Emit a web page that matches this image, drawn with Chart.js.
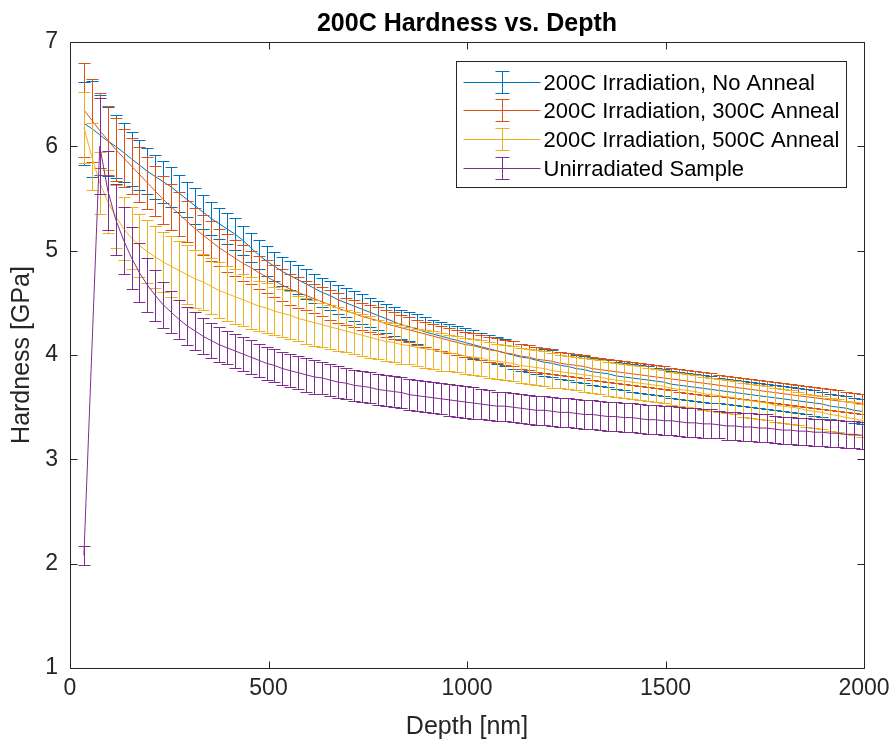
<!DOCTYPE html>
<html>
<head>
<meta charset="utf-8">
<script src="https://cdn.jsdelivr.net/npm/chart.js@4.4.1/dist/chart.umd.min.js"></script>
<style>
html,body{margin:0;padding:0;background:#fff;}
#wrap{width:894px;height:746px;}
</style>
</head>
<body>
<div id="wrap"><canvas id="c" width="894" height="746"></canvas></div>
<script>
const TITLE = '200C Hardness vs. Depth';
const X_LABEL = 'Depth [nm]';
const Y_LABEL = 'Hardness [GPa]';
const SERIES_NAMES = ['200C Irradiation, No Anneal', '200C Irradiation, 300C Anneal', '200C Irradiation, 500C Anneal', 'Unirradiated Sample'];
const X_TICKS = [0, 500, 1000, 1500, 2000];
const Y_TICKS = [1, 2, 3, 4, 5, 6, 7];

const depth = [35,55,75,95,115,135,155,175,195,215,
  235,255,275,295,315,335,355,375,395,415,
  435,455,475,495,515,535,555,575,595,615,
  635,655,675,695,715,735,755,775,795,815,
  835,855,875,895,915,935,955,975,995,1015,
  1035,1055,1075,1095,1115,1135,1155,1175,1195,1215,
  1235,1255,1275,1295,1315,1335,1355,1375,1395,1415,
  1435,1455,1475,1495,1515,1535,1555,1575,1595,1615,
  1635,1655,1675,1695,1715,1735,1755,1775,1795,1815,
  1835,1855,1875,1895,1915,1935,1955,1975,1995];

const noAnneal = [6.22,6.17,6.11,6.05,6.00,5.94,5.88,5.82,5.76,5.71,
  5.66,5.61,5.55,5.49,5.43,5.37,5.31,5.26,5.21,5.16,
  5.10,5.03,4.96,4.90,4.85,4.80,4.76,4.72,4.68,4.64,
  4.60,4.57,4.53,4.50,4.47,4.44,4.41,4.38,4.35,4.32,
  4.29,4.27,4.25,4.22,4.20,4.18,4.16,4.14,4.12,4.10,
  4.08,4.06,4.04,4.02,4.00,3.98,3.97,3.95,3.93,3.92,
  3.90,3.89,3.87,3.86,3.84,3.83,3.82,3.80,3.79,3.78,
  3.77,3.76,3.75,3.74,3.72,3.71,3.70,3.69,3.68,3.67,
  3.66,3.65,3.64,3.63,3.62,3.61,3.60,3.59,3.58,3.57,
  3.56,3.55,3.54,3.53,3.51,3.50,3.49,3.47,3.46];
const noAnnealErr = [0.40,0.46,0.38,0.33,0.30,0.28,0.26,0.24,0.22,0.21,
  0.20,0.19,0.18,0.17,0.17,0.16,0.16,0.15,0.15,0.15,
  0.14,0.14,0.14,0.14,0.14,0.14,0.14,0.14,0.14,0.14,
  0.14,0.14,0.14,0.14,0.14,0.14,0.14,0.14,0.14,0.14,
  0.14,0.14,0.14,0.14,0.14,0.14,0.14,0.14,0.14,0.14,
  0.13,0.13,0.13,0.13,0.13,0.13,0.13,0.13,0.13,0.13,
  0.13,0.13,0.13,0.13,0.13,0.13,0.13,0.13,0.13,0.13,
  0.13,0.13,0.13,0.13,0.13,0.13,0.13,0.13,0.13,0.13,
  0.12,0.12,0.12,0.12,0.12,0.12,0.12,0.12,0.12,0.12,
  0.12,0.12,0.12,0.12,0.12,0.12,0.12,0.12,0.12];

const anneal300 = [6.35,6.25,6.15,6.06,5.97,5.89,5.81,5.73,5.65,5.57,
  5.49,5.42,5.35,5.28,5.21,5.15,5.09,5.03,4.98,4.93,
  4.88,4.84,4.79,4.75,4.71,4.67,4.63,4.60,4.57,4.54,
  4.51,4.48,4.45,4.42,4.40,4.37,4.35,4.33,4.30,4.28,
  4.26,4.24,4.22,4.20,4.18,4.16,4.14,4.12,4.10,4.09,
  4.07,4.05,4.04,4.02,4.01,3.99,3.98,3.96,3.95,3.94,
  3.92,3.91,3.90,3.89,3.87,3.86,3.85,3.84,3.83,3.82,
  3.81,3.80,3.79,3.78,3.77,3.76,3.75,3.74,3.73,3.72,
  3.71,3.70,3.69,3.68,3.67,3.66,3.65,3.64,3.63,3.62,
  3.61,3.60,3.59,3.58,3.57,3.56,3.55,3.54,3.53];
const anneal300Err = [0.45,0.40,0.36,0.33,0.30,0.28,0.27,0.26,0.25,0.24,
  0.23,0.22,0.21,0.20,0.20,0.19,0.19,0.18,0.18,0.17,
  0.17,0.16,0.16,0.16,0.15,0.15,0.15,0.15,0.14,0.14,
  0.14,0.14,0.14,0.13,0.13,0.13,0.13,0.13,0.13,0.13,
  0.12,0.12,0.12,0.12,0.12,0.12,0.12,0.12,0.12,0.12,
  0.12,0.12,0.12,0.12,0.12,0.12,0.12,0.12,0.12,0.12,
  0.11,0.11,0.11,0.11,0.11,0.11,0.11,0.11,0.11,0.11,
  0.11,0.11,0.11,0.11,0.11,0.11,0.11,0.11,0.11,0.11,
  0.10,0.10,0.10,0.10,0.10,0.10,0.10,0.10,0.10,0.10,
  0.10,0.10,0.10,0.10,0.10,0.10,0.10,0.10,0.10];

const anneal500 = [6.18,5.90,5.65,5.47,5.33,5.21,5.12,5.05,4.99,4.94,
  4.89,4.85,4.81,4.77,4.73,4.70,4.66,4.62,4.59,4.56,
  4.53,4.50,4.47,4.45,4.42,4.40,4.38,4.35,4.33,4.31,
  4.29,4.27,4.25,4.23,4.21,4.19,4.17,4.15,4.13,4.12,
  4.10,4.09,4.07,4.06,4.05,4.03,4.02,4.01,3.99,3.98,
  3.97,3.95,3.94,3.93,3.92,3.90,3.89,3.88,3.87,3.85,
  3.84,3.83,3.82,3.81,3.80,3.79,3.77,3.76,3.75,3.74,
  3.73,3.72,3.71,3.70,3.68,3.67,3.66,3.65,3.63,3.62,
  3.61,3.60,3.59,3.57,3.56,3.55,3.54,3.52,3.51,3.50,
  3.49,3.47,3.46,3.45,3.43,3.42,3.40,3.39,3.37];
const anneal500Err = [0.34,0.32,0.30,0.30,0.30,0.30,0.30,0.30,0.30,0.30,
  0.29,0.29,0.28,0.28,0.28,0.27,0.27,0.27,0.26,0.26,
  0.25,0.25,0.24,0.24,0.23,0.23,0.23,0.22,0.22,0.22,
  0.21,0.21,0.21,0.20,0.20,0.20,0.20,0.19,0.19,0.19,
  0.19,0.18,0.18,0.18,0.18,0.18,0.17,0.17,0.17,0.17,
  0.17,0.17,0.17,0.17,0.17,0.17,0.17,0.17,0.17,0.17,
  0.16,0.16,0.16,0.16,0.16,0.16,0.16,0.16,0.16,0.16,
  0.16,0.16,0.16,0.16,0.16,0.16,0.16,0.16,0.16,0.16,
  0.16,0.16,0.16,0.16,0.16,0.16,0.16,0.16,0.16,0.16,
  0.16,0.16,0.16,0.16,0.16,0.16,0.16,0.16,0.16];

const unirradiated = [2.08,null,6.00,5.58,5.30,5.10,4.93,4.79,4.67,4.57,
  4.48,4.41,4.34,4.28,4.23,4.18,4.14,4.10,4.07,4.04,
  4.01,3.98,3.95,3.92,3.90,3.87,3.85,3.83,3.81,3.79,
  3.78,3.76,3.74,3.73,3.71,3.70,3.69,3.67,3.66,3.65,
  3.64,3.62,3.61,3.60,3.59,3.58,3.57,3.56,3.55,3.54,
  3.53,3.52,3.51,3.51,3.50,3.49,3.48,3.47,3.47,3.46,
  3.45,3.45,3.44,3.43,3.43,3.42,3.41,3.41,3.40,3.40,
  3.39,3.38,3.38,3.37,3.37,3.36,3.35,3.35,3.34,3.34,
  3.33,3.32,3.32,3.31,3.31,3.30,3.30,3.29,3.28,3.28,
  3.27,3.27,3.26,3.26,3.25,3.25,3.24,3.24,3.23];
const unirradiatedErr = [0.09,null,0.46,0.38,0.34,0.32,0.30,0.28,0.26,0.24,
  0.22,0.20,0.19,0.18,0.18,0.17,0.17,0.17,0.16,0.16,
  0.16,0.16,0.16,0.16,0.16,0.16,0.16,0.16,0.16,0.16,
  0.15,0.15,0.15,0.15,0.15,0.15,0.15,0.15,0.15,0.15,
  0.15,0.15,0.15,0.15,0.15,0.15,0.15,0.15,0.15,0.15,
  0.14,0.14,0.14,0.14,0.14,0.14,0.14,0.14,0.14,0.14,
  0.14,0.14,0.14,0.14,0.14,0.14,0.14,0.14,0.14,0.14,
  0.14,0.14,0.14,0.14,0.14,0.14,0.14,0.14,0.14,0.14,
  0.13,0.13,0.13,0.13,0.13,0.13,0.13,0.13,0.13,0.13,
  0.13,0.13,0.13,0.13,0.13,0.13,0.13,0.13,0.13];

const COLORS = ['#0072BD', '#D95319', '#EDB120', '#7E2F8E'];
const VALUES = [noAnneal, anneal300, anneal500, unirradiated];
const ERRORS = [noAnnealErr, anneal300Err, anneal500Err, unirradiatedErr];

const FONT = "'Liberation Sans', Arial, Helvetica, sans-serif";
const AXIS_COLOR = '#262626';
const CAP = 12;

const datasets = VALUES.map((vals, k) => ({
  label: SERIES_NAMES[k],
  data: depth.map((d, i) => ({x: d, y: vals[i]})),
  errors: ERRORS[k],
  borderColor: COLORS[k],
  backgroundColor: COLORS[k],
  borderWidth: 1,
  pointRadius: 0,
  tension: 0,
  spanGaps: true,
  fill: false,
  order: 3 - k
}));

const errorBarPlugin = {
  id: 'errorBars',
  afterDatasetDraw(chart, args) {
    const ds = chart.data.datasets[args.index];
    const xs = chart.scales.x, ys = chart.scales.y, ctx = chart.ctx, a = chart.chartArea;
    ctx.save();
    ctx.beginPath();
    ctx.rect(a.left, a.top, a.right - a.left, a.bottom - a.top);
    ctx.clip();
    ctx.strokeStyle = ds.borderColor;
    ctx.lineWidth = 1;
    ctx.beginPath();
    ds.data.forEach((p, i) => {
      const e = ds.errors[i];
      if (p.y == null || e == null) return;
      const px = Math.round(xs.getPixelForValue(p.x)) + 0.5;
      const yt = Math.round(ys.getPixelForValue(p.y + e)) + 0.5;
      const yb = Math.round(ys.getPixelForValue(p.y - e)) + 0.5;
      ctx.moveTo(px, yt); ctx.lineTo(px, yb);
      ctx.moveTo(px - CAP / 2, yt); ctx.lineTo(px + CAP / 2, yt);
      ctx.moveTo(px - CAP / 2, yb); ctx.lineTo(px + CAP / 2, yb);
    });
    ctx.stroke();
    ctx.restore();
  }
};

const axesBoxPlugin = {
  id: 'axesBox',
  afterDatasetsDraw(chart) {
    const ctx = chart.ctx, a = chart.chartArea, xs = chart.scales.x, ys = chart.scales.y;
    const TL = 7;
    ctx.save();
    ctx.strokeStyle = AXIS_COLOR;
    ctx.lineWidth = 1;
    ctx.beginPath();
    const L = Math.round(a.left) + 0.5, R = Math.round(a.right) + 0.5, T = Math.round(a.top) + 0.5, B = Math.round(a.bottom) + 0.5;
    ctx.rect(L, T, R - L, B - T);
    xs.ticks.forEach(t => {
      const px = Math.round(xs.getPixelForValue(t.value)) + 0.5;
      ctx.moveTo(px, B); ctx.lineTo(px, B - TL);
      ctx.moveTo(px, T); ctx.lineTo(px, T + TL);
    });
    ys.ticks.forEach(t => {
      const py = Math.round(ys.getPixelForValue(t.value)) + 0.5;
      ctx.moveTo(L, py); ctx.lineTo(L + TL, py);
      ctx.moveTo(R, py); ctx.lineTo(R - TL, py);
    });
    ctx.stroke();
    ctx.restore();
  }
};

const legendPlugin = {
  id: 'matlabLegend',
  afterDraw(chart) {
    const ctx = chart.ctx, a = chart.chartArea;
    const W = 390, H = 126;
    const left = Math.round(a.right - 18 - W) + 0.5, top = Math.round(a.top + 19) + 0.5;
    ctx.save();
    ctx.fillStyle = '#fff';
    ctx.fillRect(left, top, W, H);
    ctx.strokeStyle = AXIS_COLOR;
    ctx.lineWidth = 1;
    ctx.strokeRect(left, top, W, H);
    chart.data.datasets.forEach((ds, k) => {
      const cy = Math.round(top + 20 + k * 28.7) + 0.5;
      ctx.strokeStyle = ds.borderColor;
      ctx.beginPath();
      ctx.moveTo(left + 7, cy); ctx.lineTo(left + 84, cy);
      const cx = Math.round(left + 45) + 0.5;
      ctx.moveTo(cx, cy - 11); ctx.lineTo(cx, cy + 11);
      ctx.moveTo(cx - 7, cy - 11); ctx.lineTo(cx + 7, cy - 11);
      ctx.moveTo(cx - 7, cy + 11); ctx.lineTo(cx + 7, cy + 11);
      ctx.stroke();
      ctx.fillStyle = '#000';
      ctx.font = '22px ' + FONT;
      ctx.textBaseline = 'middle';
      ctx.textAlign = 'left';
      ctx.fillText(ds.label, left + 87, cy + 1);
    });
    ctx.restore();
  }
};

new Chart(document.getElementById('c'), {
  type: 'line',
  data: { datasets },
  options: {
    responsive: false,
    animation: false,
    devicePixelRatio: 1,
    layout: { padding: { left: 0, right: 30, top: 0, bottom: 0 } },
    plugins: {
      legend: { display: false },
      tooltip: { enabled: false },
      title: {
        display: true, text: TITLE, fullSize: false, color: '#000',
        font: { family: FONT, size: 25, weight: 'bold', lineHeight: 1.2 },
        padding: { top: 9, bottom: 3 }
      }
    },
    scales: {
      x: {
        type: 'linear', min: X_TICKS[0], max: X_TICKS[X_TICKS.length - 1],
        afterBuildTicks: s => { s.ticks = X_TICKS.map(v => ({ value: v })); },
        ticks: { color: AXIS_COLOR, font: { family: FONT, size: 23 }, padding: 7, maxRotation: 0, autoSkip: false, callback: v => String(v) },
        grid: { display: false, drawTicks: false },
        border: { display: false },
        title: { display: true, text: X_LABEL, color: AXIS_COLOR, font: { family: FONT, size: 25, lineHeight: 1.2 }, padding: { top: 0, bottom: 4 } },
        afterFit: s => { s.height = 78; s.paddingRight = 0; }
      },
      y: {
        type: 'linear', min: Y_TICKS[0], max: Y_TICKS[Y_TICKS.length - 1],
        afterBuildTicks: s => { s.ticks = Y_TICKS.map(v => ({ value: v })); },
        ticks: { color: AXIS_COLOR, font: { family: FONT, size: 23 }, padding: 12, autoSkip: false, callback: v => String(v) },
        grid: { display: false, drawTicks: false },
        border: { display: false },
        title: { display: true, text: Y_LABEL, color: AXIS_COLOR, font: { family: FONT, size: 25, lineHeight: 1.2 }, padding: { top: 7, bottom: 0 } },
        afterFit: s => { s.width = 70; }
      }
    }
  },
  plugins: [errorBarPlugin, axesBoxPlugin, legendPlugin]
});
</script>
</body>
</html>
